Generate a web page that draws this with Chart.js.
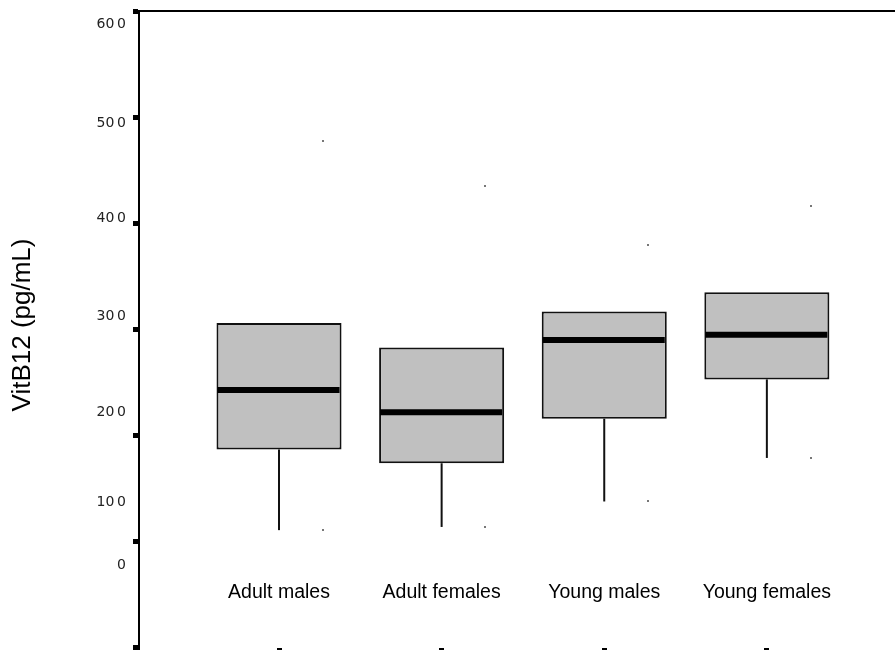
<!DOCTYPE html>
<html>
<head>
<meta charset="utf-8">
<script src="https://cdn.jsdelivr.net/npm/chart.js@4.4.1/dist/chart.umd.min.js"></script>
<style>
  html, body { margin:0; padding:0; background:#fff; overflow:hidden; }
  #wrap { width:895px; height:650px; }
</style>
</head>
<body>
<div id="wrap"><canvas id="boxChart" width="895" height="650"></canvas></div>
<script>
// ================================================================
// BOXPLOT — VitB12 (pg/mL) por grupo
// ================================================================

// ── Dados ───────────────────────────────────────────────
const CATEGORIES   = ['Adult males', 'Adult females', 'Young males', 'Young females'];
const Q1           = [187, 174, 216, 253];
const Q3           = [306, 283, 317, 335];
const MEDIAN       = [243, 222, 290, 295];
const WHISKER_LOW  = [111, 114, 138, 179];
const WHISKER_HIGH = [478, 435, 380, 416];

// Eixo Y: marcas e rótulos (no original os rótulos ficam fora das marcas)
const Y_TICKS      = [0, 100, 200, 300, 400, 500, 600];
const Y_TICK_TEXT  = ['0', '10\u20090', '20\u20090', '30\u20090', '40\u20090', '50\u20090', '60\u20090'];
const Y_LABEL_AT   = [78, 137, 222, 312, 405, 494, 587];

// ── Layout ──────────────────────────────────────────────
const X_MIN = -0.861, X_MAX = 3.788;
const Y_MIN = -1.9,   Y_MAX = 600;
const CAT_LABEL_AT = 63;     // valor de Y onde ficam os nomes dos grupos
const DOT_SHIFT    = 0.35;   // deslocamento dos pontinhos (fração da largura da caixa)

const SANS = "'Liberation Sans', Arial, sans-serif";

// Mediana, bigode inferior e pontos das extremidades
const boxDetails = {
  id: 'boxDetails',
  afterDatasetsDraw(chart) {
    const { ctx } = chart;
    const y = chart.scales.y;
    const bars = chart.getDatasetMeta(0).data;
    ctx.save();
    bars.forEach((bar, i) => {
      const half = bar.width / 2;

      ctx.strokeStyle = '#111';
      ctx.lineWidth = 2;
      ctx.beginPath();
      ctx.moveTo(bar.x, y.getPixelForValue(Q1[i]));
      ctx.lineTo(bar.x, y.getPixelForValue(WHISKER_LOW[i]));
      ctx.stroke();

      const ym = y.getPixelForValue(MEDIAN[i]);
      ctx.strokeStyle = '#000';
      ctx.lineWidth = 6;
      ctx.beginPath();
      ctx.moveTo(bar.x - half + 1, ym);
      ctx.lineTo(bar.x + half - 2, ym);
      ctx.stroke();

      ctx.fillStyle = '#777';
      const xd = bar.x + bar.width * DOT_SHIFT;
      [WHISKER_LOW[i], WHISKER_HIGH[i]].forEach(v => {
        ctx.fillRect(Math.round(xd) - 1, Math.round(y.getPixelForValue(v)) - 1, 2, 2);
      });
    });
    ctx.restore();
  }
};

const xTicksAt = s => { s.ticks = CATEGORIES.map((_, i) => ({ value: i })); };
const noSpace  = s => { s.height = 0; s.paddingTop = s.paddingBottom = s.paddingLeft = s.paddingRight = 0; };

new Chart(document.getElementById('boxChart'), {
  type: 'bar',
  data: {
    datasets: [{
      label: 'VitB12',
      data: CATEGORIES.map((_, i) => ({ x: i, y: [Q1[i], Q3[i]] })),
      backgroundColor: '#c0c0c0',
      borderColor: '#111',
      borderWidth: 2,
      borderSkipped: false,
      categoryPercentage: 1,
      barPercentage: 0.769,
    }],
  },
  options: {
    responsive: false,
    animation: false,
    events: [],
    layout: { padding: 0, autoPadding: false },
    plugins: {
      legend: { display: false },
      tooltip: { enabled: false },
      title: {
        display: true, text: 'VitB12 (pg/mL)', position: 'left', fullSize: true,
        color: '#000', font: { family: SANS, size: 26, weight: 'normal' },
        padding: { top: 7, bottom: 0 },
      },
    },
    scales: {
      x: {
        type: 'linear', min: X_MIN, max: X_MAX, position: { y: 0 }, offset: false,
        afterBuildTicks: xTicksAt,
        afterFit: noSpace,
        ticks: { display: false },
        grid: { offset: false, drawOnChartArea: false, drawTicks: true, tickLength: 4, tickWidth: 5, tickColor: '#000' },
        border: { display: false },
      },
      xCat: {
        axis: 'x', type: 'linear', min: X_MIN, max: X_MAX, position: { y: CAT_LABEL_AT }, offset: false,
        afterBuildTicks: xTicksAt,
        afterFit: noSpace,
        ticks: {
          callback: (v, i) => CATEGORIES[i],
          color: '#000', font: { family: SANS, size: 19.5 },
          padding: 0, maxRotation: 0, autoSkip: false,
        },
        grid: { display: false, drawTicks: false, offset: false },
        border: { display: false },
      },
      xTop: {
        axis: 'x', type: 'linear', min: X_MIN, max: X_MAX, position: 'top', offset: false,
        ticks: { display: false },
        grid: { display: false, drawTicks: false },
        border: { display: true, color: '#000', width: 2 },
        afterFit: s => { s.height = 11; },
      },
      y: {
        type: 'linear', min: Y_MIN, max: Y_MAX, position: 'left', weight: 0,
        afterBuildTicks: s => { s.ticks = Y_TICKS.map(v => ({ value: v })); },
        ticks: { display: false },
        grid: { drawOnChartArea: false, drawTicks: true, tickLength: 6, tickWidth: 5, tickColor: '#000' },
        border: { display: true, color: '#000', width: 2 },
        afterFit: s => { s.width = 6; },
      },
      yLab: {
        axis: 'y', type: 'linear', min: Y_MIN, max: Y_MAX, position: 'left', weight: 1,
        afterBuildTicks: s => { s.ticks = Y_LABEL_AT.map(v => ({ value: v })); },
        ticks: {
          callback: (v, i) => Y_TICK_TEXT[i],
          color: '#222', font: { family: "'DejaVu Sans', sans-serif", size: 14 },
          padding: 7, autoSkip: false,
        },
        grid: { display: false, drawTicks: false },
        border: { display: false },
        afterFit: s => { s.width = 94.8; s.paddingTop = s.paddingBottom = 0; },
      },
    },
  },
  plugins: [boxDetails],
});
</script>
</body>
</html>
